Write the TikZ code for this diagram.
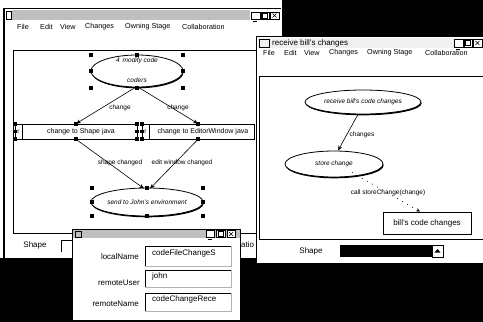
\documentclass[tikz,border=0pt]{standalone}
\usepackage{fontspec}
\setmainfont{Liberation Sans}
\usetikzlibrary{shapes.geometric,arrows.meta,shadows}
\begin{document}
\begin{tikzpicture}[x=1pt,y=-1pt,
  menu/.style={font=\fontsize{7.2}{8}\selectfont, anchor=west, inner sep=0},
  lbl/.style={font=\fontsize{6.5}{7}\selectfont, inner sep=0.5pt},
  ital/.style={font=\fontsize{6.5}{7}\selectfont\itshape, inner sep=0},
  usecase/.style={ellipse, draw, line width=0.8pt, fill=white, inner sep=0,
    drop shadow={shadow xshift=0.6pt, shadow yshift=-1.3pt, fill=black, opacity=1},
    font=\fontsize{6.5}{7}\selectfont\itshape},
  actbox/.style={rectangle, draw, line width=0.6pt, fill=white, inner sep=0,
    font=\fontsize{7}{8}\selectfont},
  handle/.style={rectangle, fill=black, minimum size=3.2pt, inner sep=0},
  flow/.style={line width=0.6pt, -{Stealth[length=5pt,width=4pt]}},
  winbtn/.style={rectangle, draw, fill=white, minimum width=8.5pt, minimum height=7.5pt,
    inner sep=0, line width=0.5pt},
  field/.style={rectangle, fill=white, minimum width=86pt, inner sep=0, anchor=north west},
  dlgtxt/.style={font=\fontsize{8}{9}\selectfont, inner sep=0},
  titlebar/.style={fill=gray!50},
]
\useasboundingbox (0,0) rectangle (483,322);
% desktop
\fill[black] (0,0) rectangle (483,322);

% ---------------- left window ----------------
\fill[white] (0,0) rectangle (282,258);
\draw[line width=1.3pt] (4,8) -- (4,258);
\draw[line width=0.6pt] (4,8) -- (281,8);
\fill[titlebar] (12,10) rectangle (250,20);
\draw[line width=0.6pt] (6,11) rectangle (11,19);
\node[winbtn] (lmin) at (255.5,15.5) {};
\node[winbtn] (lmax) at (265,15.5) {};
\node[winbtn] (lcls) at (274.5,15.5) {};
\draw[line width=0.8pt] ([xshift=2pt,yshift=-2pt]lmin.south west) -- ([xshift=-3pt,yshift=-2pt]lmin.south east);
\draw[line width=0.6pt] ([xshift=2pt,yshift=-1.5pt]lmax.north west) rectangle ([xshift=-2pt,yshift=1.5pt]lmax.south east);
\draw[line width=0.6pt] ([xshift=2.5pt,yshift=-2pt]lcls.north west) -- ([xshift=-2.5pt,yshift=2pt]lcls.south east)
  ([xshift=-2.5pt,yshift=-2pt]lcls.north east) -- ([xshift=2.5pt,yshift=2pt]lcls.south west);

\node[menu] (lfile) at (17,27) {File};
\node[menu] (ledit) at (40,27) {Edit};
\node[menu] (lview) at (60,27) {View};
\node[menu] (lchg)  at (85,27) {Changes};
\node[menu] (lown)  at (125,27) {Owning Stage};
\node[menu] (lcol)  at (182,27) {Collaboration};

% canvas frame
\draw[line width=0.7pt] (280,50) -- (13,50) -- (13,233) -- (280,233);

% modify code
\node[usecase, minimum width=92pt, minimum height=32pt] (modify) at (137,71) {};
\node[ital] (modifyt) at (137,61) {4\, modify code};
\node[ital] (coders) at (137,80) {coders};

% activity boxes
\node[actbox, minimum width=122pt, minimum height=15pt] (box1) at (76,131.5) {};
\draw[line width=0.6pt] (22,124) -- (22,139);
\node[lbl] (r1) at (18.5,131.5) {r};
\node[font=\fontsize{7}{8}\selectfont, inner sep=0] (t1) at (81,131.5) {change to Shape java};
\node[actbox, minimum width=112pt, minimum height=15pt] (box2) at (198,131.5) {};
\draw[line width=0.6pt] (149,124) -- (149,139);
\node[lbl] (r2) at (145.5,131.5) {r};
\node[font=\fontsize{7}{8}\selectfont, inner sep=0] (t2) at (203,131.5) {change to EditorWindow java};

% send to John
\node[usecase, minimum width=110pt, minimum height=28pt] (send) at (147,202) {send to John's environment};

% connectors
\draw[flow] ([yshift=1pt]modify.south) -- (box1.north);
\draw[flow] ([yshift=1pt]modify.south) -- (box2.north);
\draw[flow] (box1.south) -- ([xshift=-3pt,yshift=-1pt]send.north);
\draw[flow] (box2.south) -- ([xshift=3pt,yshift=-1pt]send.north);
\node[lbl] (lc1) at (120,108) {change};
\node[lbl] (lc2) at (178,108) {change};
\node[lbl] (lsc) at (120,163) {shape changed};
\node[lbl] (lec) at (182,163) {edit window changed};

% selection handles
\foreach \p in {(91,55),(137,55),(183,55),(91,71),(183,71),(91,88),(137,88),(183,88),
  (15,124),(15,131.5),(15,139),(76,124),(76,139),(137,124),(137,131.5),(137,139),
  (142,124),(142,131.5),(142,139),(198,124),(198,139),
  (92,188),(147,188),(203,188),(92,202),(203,202),(92,216),(147,216),(203,216)}
  \node[handle] at \p {};

% bottom bar
\node[dlgtxt] (lshape) at (35,245) {Shape};
\fill[white] (61,240) rectangle (82,252);
\draw[line width=1pt] (61,252) -- (61,240) -- (82,240);
\node[dlgtxt, anchor=west] (latio) at (241,245) {atio};

% ---------------- right window ----------------
\fill[white] (256,36) rectangle (483,263);
\draw[line width=1pt] (256,36) -- (256,263);
\draw[line width=0.8pt] (256,36) -- (483,36);
\fill[gray!12] (258,38) rectangle (483,48);
\draw[line width=0.6pt] (259,39) rectangle (269,47);
\node[font=\fontsize{8}{9}\selectfont, anchor=west, inner sep=0] (rtitle) at (272,43) {receive bill's changes};
\node[winbtn] (rmin) at (458.5,43) {};
\node[winbtn] (rmax) at (468,43) {};
\node[winbtn] (rcls) at (477.5,43) {};
\draw[line width=0.8pt] ([xshift=2pt,yshift=-2pt]rmin.south west) -- ([xshift=-3pt,yshift=-2pt]rmin.south east);
\draw[line width=0.6pt] ([xshift=2pt,yshift=-1.5pt]rmax.north west) rectangle ([xshift=-2pt,yshift=1.5pt]rmax.south east);
\draw[line width=0.6pt] ([xshift=2.5pt,yshift=-2pt]rcls.north west) -- ([xshift=-2.5pt,yshift=2pt]rcls.south east)
  ([xshift=-2.5pt,yshift=-2pt]rcls.north east) -- ([xshift=2.5pt,yshift=2pt]rcls.south west);

\node[menu] (rfile) at (263,53) {File};
\node[menu] (redit) at (284,53) {Edit};
\node[menu] (rview) at (304,53) {View};
\node[menu] (rchg)  at (329,53) {Changes};
\node[menu] (rown)  at (367,53) {Owning Stage};
\node[menu] (rcol)  at (425,53) {Collaboration};

\draw[line width=0.7pt] (483,76) -- (259,76) -- (259,239) -- (483,239);

\node[usecase, minimum width=116pt, minimum height=24pt] (receive) at (363,102) {receive bill's code changes};
\node[usecase, minimum width=98pt, minimum height=26pt] (store) at (334,164) {store change};
\node[rectangle, draw, line width=0.8pt, fill=white, minimum width=88pt, minimum height=22pt,
  inner sep=0, font=\fontsize{8}{9}\selectfont] (bills) at (427,223) {bill's code changes};

\draw[flow] ([xshift=-5pt]receive.south) -- ([xshift=4pt]store.north);
\node[lbl] (lchanges) at (362,135) {changes};
\draw[line width=0.7pt, dash pattern=on 0.8pt off 5pt, -{Stealth[length=4pt,width=3.5pt]}]
  ([xshift=18pt,yshift=5pt]store.south) -- ([xshift=-7pt]bills.north);
\node[lbl] (lcall) at (388,193) {call storeChange(change)};

\node[dlgtxt] (rshape) at (311,251) {Shape};
\fill[black] (340,245) rectangle (432,257);
\node[rectangle, draw, fill=white, line width=0.6pt, minimum width=11pt, minimum height=12pt,
  inner sep=0] (rdrop) at (437.5,251) {};
\fill[black] ([xshift=-3pt,yshift=-1.5pt]rdrop.center) -- ([xshift=3pt,yshift=-1.5pt]rdrop.center)
  -- ([yshift=2pt]rdrop.center) -- cycle;

% ---------------- dialog ----------------
\fill[white] (72,229) rectangle (240,320);
\draw[line width=0.6pt] (72,229) rectangle (240,320);
\fill[titlebar] (73,230) rectangle (240,238);
\draw[line width=0.5pt] (75,231) rectangle (81,237);
\node[winbtn, minimum height=7pt] (dmin) at (210,234) {};
\node[winbtn, minimum height=7pt] (dmax) at (220.5,234) {};
\node[winbtn, minimum height=7pt] (dcls) at (231,234) {};
\draw[line width=0.8pt] ([xshift=2pt,yshift=-1.8pt]dmin.south west) -- ([xshift=-3pt,yshift=-1.8pt]dmin.south east);
\draw[line width=0.6pt] ([xshift=2pt,yshift=-1.5pt]dmax.north west) rectangle ([xshift=-2pt,yshift=1.5pt]dmax.south east);
\draw[line width=0.6pt] ([xshift=2.5pt,yshift=-1.8pt]dcls.north west) -- ([xshift=-2.5pt,yshift=1.8pt]dcls.south east)
  ([xshift=-2.5pt,yshift=-1.8pt]dcls.north east) -- ([xshift=2.5pt,yshift=1.8pt]dcls.south west);

\node[dlgtxt, anchor=east] (llocal) at (139,257) {localName};
\node[dlgtxt, anchor=east] (luser) at (140,283) {remoteUser};
\node[dlgtxt, anchor=east] (lremote) at (139,304) {remoteName};

\node[field, minimum height=20pt] (flocal) at (145,246) {};
\node[field, minimum height=17pt] (fuser) at (145,270) {};
\node[field, minimum height=18pt] (fremote) at (145,293) {};
\foreach \f in {flocal,fuser,fremote}{
  \draw[line width=1pt] (\f.south west) -- (\f.north west) -- (\f.north east);
  \draw[gray!60, line width=0.5pt] (\f.north east) -- (\f.south east) -- (\f.south west);
}
\node[dlgtxt, anchor=west] (vlocal) at (152,253) {codeFileChangeS};
\node[dlgtxt, anchor=west] (vuser) at (152,276) {john};
\node[dlgtxt, anchor=west] (vremote) at (152,299) {codeChangeRece};
\end{tikzpicture}
\end{document}
